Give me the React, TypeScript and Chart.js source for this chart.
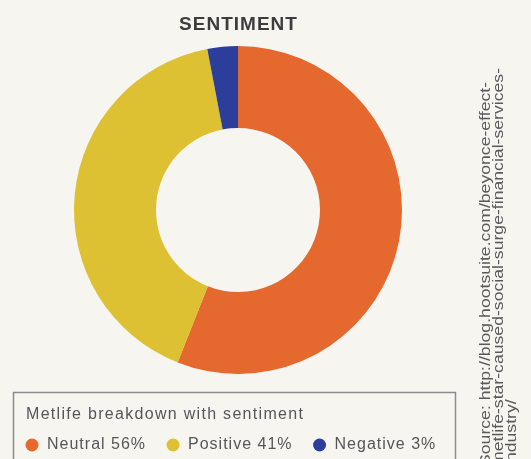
import { useEffect, useRef } from "react";
import { Chart, registerables } from "chart.js";

Chart.register(...registerables);

const categories = ["Neutral", "Positive", "Negative"];
const shares = [56, 41, 3];
const sliceColors = ["#E5692F", "#DEC033", "#2C3E9C"];
const chartTitle = "SENTIMENT";
const legendTitle = "Metlife breakdown with sentiment";
const sourceLines = [
  "Source: http://blog.hootsuite.com/beyonce-effect-",
  "metlife-star-caused-social-surge-financial-services-",
  "industry/",
];

const FONT = "'Liberation Sans', Arial, sans-serif";

const backgroundPlugin = {
  id: "paperBackground",
  beforeDraw(chart: any) {
    const { ctx, width, height } = chart;
    ctx.save();
    ctx.fillStyle = "#f6f5f0";
    ctx.fillRect(0, 0, width, height);
    ctx.restore();
  },
};

const titlePlugin = {
  id: "spacedTitle",
  afterDraw(chart: any) {
    const ctx = chart.ctx as any;
    ctx.save();
    ctx.font = `bold 19px ${FONT}`;
    ctx.fillStyle = "#3d3d3d";
    ctx.textAlign = "center";
    ctx.textBaseline = "middle";
    ctx.letterSpacing = "1px";
    const cx = (chart.chartArea.left + chart.chartArea.right) / 2;
    ctx.fillText(chartTitle, cx + 0.5, 25);
    ctx.restore();
  },
};

const legendBoxPlugin = {
  id: "legendBox",
  afterDraw(chart: any) {
    const ctx = chart.ctx as any;
    ctx.save();
    ctx.strokeStyle = "#8c8c8c";
    ctx.lineWidth = 1.5;
    ctx.strokeRect(13.5, 392.5, 442, 90);
    ctx.fillStyle = "#565656";
    ctx.textBaseline = "middle";
    ctx.textAlign = "left";
    ctx.font = `16px ${FONT}`;
    ctx.letterSpacing = "1.3px";
    ctx.fillText(legendTitle, 26, 415);
    ctx.letterSpacing = "1px";
    let x = 32;
    const y = 445;
    categories.forEach((c, i) => {
      ctx.beginPath();
      ctx.arc(x, y, 6.5, 0, Math.PI * 2);
      ctx.fillStyle = sliceColors[i];
      ctx.fill();
      const label = `${c} ${shares[i]}%`;
      ctx.fillStyle = "#565656";
      ctx.fillText(label, x + 15, y);
      const w = ctx.measureText(label).width;
      x = x + 15 + w + 27;
    });
    ctx.restore();
  },
};

const sourcePlugin = {
  id: "sourceText",
  afterDraw(chart: any) {
    const ctx = chart.ctx as CanvasRenderingContext2D;
    ctx.save();
    ctx.font = `15px ${FONT}`;
    ctx.fillStyle = "#5a5a5a";
    ctx.textBaseline = "middle";
    ctx.textAlign = "left";
    const ref = ctx.measureText(sourceLines[1]).width;
    const sx = 398 / ref;
    sourceLines.forEach((line, i) => {
      ctx.save();
      ctx.translate(486 + i * 13, 466);
      ctx.rotate(-Math.PI / 2);
      ctx.scale(sx, 1);
      ctx.fillText(line, 0, 0);
      ctx.restore();
    });
    ctx.restore();
  },
};

export default function App() {
  const canvasRef = useRef<HTMLCanvasElement | null>(null);

  useEffect(() => {
    if (!canvasRef.current) return;
    const chart = new Chart(canvasRef.current, {
      type: "doughnut",
      data: {
        labels: categories,
        datasets: [
          {
            data: shares,
            backgroundColor: sliceColors,
            borderWidth: 0,
          },
        ],
      },
      options: {
        responsive: false,
        animation: false,
        cutout: "50%",
        layout: { padding: { top: 46, bottom: 85, left: 0, right: 55 } },
        plugins: {
          legend: { display: false },
          tooltip: { enabled: false },
          title: { display: false },
        },
      },
      plugins: [backgroundPlugin, titlePlugin, legendBoxPlugin, sourcePlugin],
    });
    return () => chart.destroy();
  }, []);

  return (
    <div style={{ position: "fixed", left: 0, top: 0, width: 531, height: 459 }}>
      <canvas ref={canvasRef} width={531} height={459} style={{ display: "block" }} />
    </div>
  );
}
